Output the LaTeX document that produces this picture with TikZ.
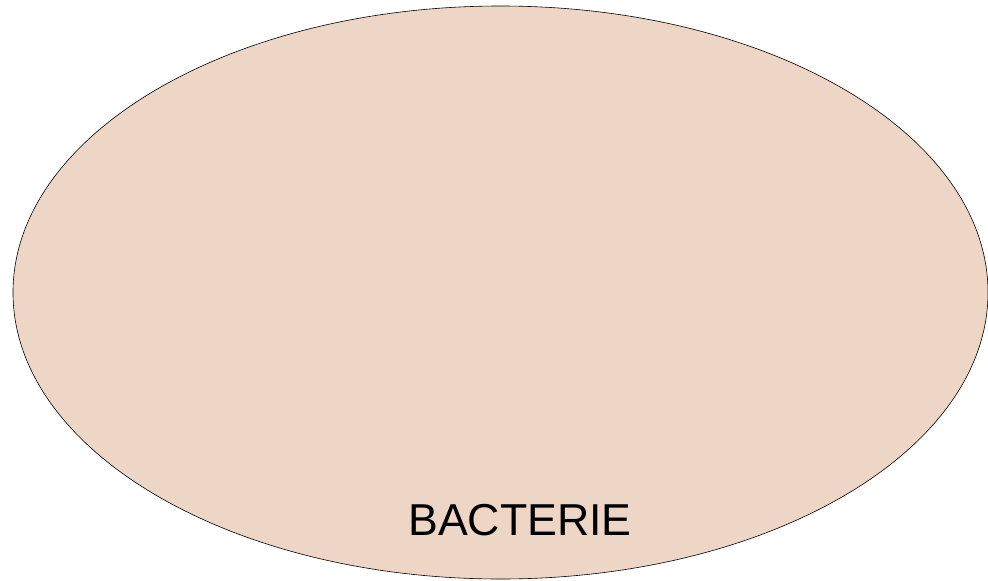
\documentclass[tikz,border=0pt]{standalone}
\usepackage{fontspec}
\setmainfont{Liberation Sans}
\usepackage{tikz}
\usetikzlibrary{shapes.geometric,positioning}
\definecolor{cPeach}{HTML}{EED6C6}

\begin{document}
\begin{tikzpicture}[x=1pt, y=-1pt]
    \useasboundingbox (0,0) rectangle (988,581);
    % cell body
    \node[ellipse, draw=black, fill=cPeach, line width=0.6pt, inner sep=0pt,
          minimum width=975pt, minimum height=573pt] (cell) at (500.5,292.5) {};
    \node[font=\fontsize{44.7}{50}\selectfont, inner sep=0pt, anchor=base] (lbl) at (520,535) {BACTERIE};
\end{tikzpicture}
\end{document}
